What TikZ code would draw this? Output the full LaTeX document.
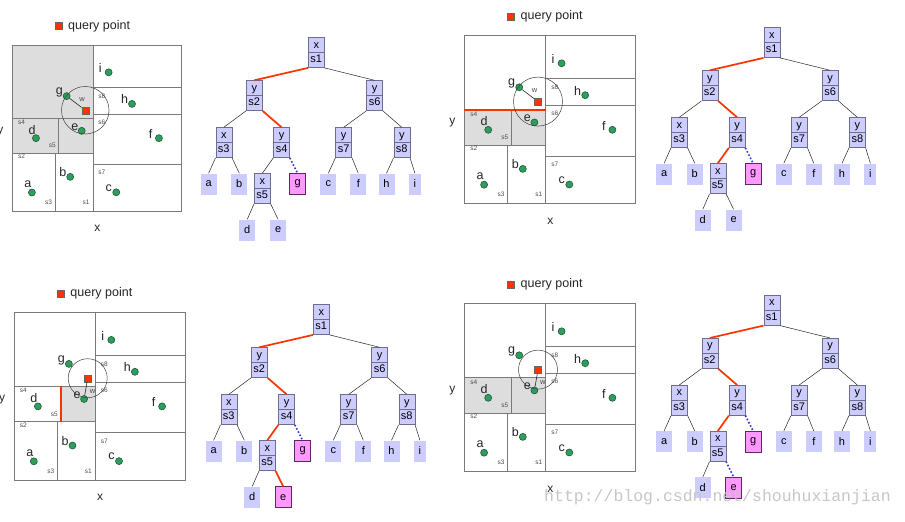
\documentclass[tikz,border=0pt]{standalone}
\usepackage{fontspec}
\setmainfont{Liberation Sans}
\newfontfamily\stampfont{Liberation Mono}
\usepackage{tikz}
\usetikzlibrary{positioning}

\definecolor{lav}{HTML}{CCCCFF}
\definecolor{boxline}{HTML}{6E6E8C}
\definecolor{pinkhit}{HTML}{FF99FF}
\definecolor{hitline}{HTML}{5A2A5A}
\definecolor{hotred}{HTML}{FF3300}
\definecolor{probeblue}{HTML}{3535CC}
\definecolor{sitegreen}{HTML}{2E9E5E}
\definecolor{siteline}{HTML}{1C5A36}
\definecolor{cellgray}{HTML}{DDDDDD}
\definecolor{cutline}{HTML}{7A7A7A}

% plane split into cells, local pixel units, #1 = name prefix
\newcommand{\kdplane}[1]{%
  \draw[cut] (0,0) rectangle (171,168);
  \draw[cut] (81.5,0) -- (81.5,168);      % s1
  \draw[cut] (0,109.3) -- (81.5,109.3);   % s2
  \draw[cut] (43,109.3) -- (43,168);      % s3
  \draw[cut] (0,74) -- (81.5,74);         % s4
  \draw[cut] (46.8,74) -- (46.8,109.3);   % s5
  \draw[cut] (81.5,70) -- (171,70);       % s6
  \draw[cut] (81.5,120.5) -- (171,120.5); % s7
  \draw[cut] (81.5,43) -- (171,43);       % s8
  % split names
  \node[cutlbl] (#1l1) at (74.4,159) {s1};
  \node[cutlbl] (#1l2) at (9.4,112.7) {s2};
  \node[cutlbl] (#1l3) at (36.7,159) {s3};
  \node[cutlbl] (#1l4) at (9.4,78.3) {s4};
  \node[cutlbl] (#1l5) at (40.4,101.7) {s5};
  \node[cutlbl] (#1l6) at (90.4,77.7) {s6};
  \node[cutlbl] (#1l7) at (90.4,129) {s7};
  \node[cutlbl] (#1l8) at (90.4,51.7) {s8};
  % data points
  \node[site] (#1a) at (19.8,149) {};
  \node[site] (#1b) at (58.5,133.2) {};
  \node[site] (#1c) at (105,148.8) {};
  \node[site] (#1d) at (23.9,94.1) {};
  \node[site] (#1e) at (70.1,86.7) {};
  \node[site] (#1f) at (148.1,94.1) {};
  \node[site] (#1g) at (54.9,51.6) {};
  \node[site] (#1h) at (120.9,59.5) {};
  \node[site] (#1i) at (97.3,27.6) {};
  \node[sitelbl] (#1la) at ([shift={(-4,-8.5)}]#1a) {a};
  \node[sitelbl] (#1lb) at ([shift={(-7.5,-4.5)}]#1b) {b};
  \node[sitelbl] (#1lc) at ([shift={(-7.5,-4.5)}]#1c) {c};
  \node[sitelbl] (#1ld) at ([shift={(-4,-8.5)}]#1d) {d};
  \node[sitelbl] (#1le) at ([shift={(-7,-4)}]#1e) {e};
  \node[sitelbl] (#1lf) at ([shift={(-8.5,-4)}]#1f) {f};
  \node[sitelbl] (#1lg) at ([shift={(-7.5,-3.5)}]#1g) {g};
  \node[sitelbl] (#1lh) at ([shift={(-7.5,-4.5)}]#1h) {h};
  \node[sitelbl] (#1li) at ([shift={(-8.5,-4)}]#1i) {i};
  % query point, key and axes
  \node[query] (#1q) at (73.7,65.9) {};
  \node[query] (#1key) at (46.5,-19) {};
  \node[keytxt, right=6pt of #1key] (#1keytxt) {query point};
  \node[axis] (#1x) at (86,185.5) {x};
  \node[axis] (#1y) at (-12,87) {y};
}

% search tree, root top at (0,0), #1 = name prefix
\newcommand{\kdtree}[1]{%
  \node[split] (#1s1) at (0,0) {x\\s1};
  \node[split] (#1s2) at (-62,43) {y\\s2};
  \node[split] (#1s6) at (58.3,43) {y\\s6};
  \node[split] (#1s3) at (-92.5,90) {x\\s3};
  \node[split] (#1s4) at (-34.7,90) {y\\s4};
  \node[split] (#1s7) at (27.4,90) {y\\s7};
  \node[split] (#1s8) at (85.5,90) {y\\s8};
  \node[leaf] (#1a) at (-107.7,136) {a};
  \node[leaf] (#1b) at (-77,136) {b};
  \node[split] (#1s5) at (-54,136) {x\\s5};
  \node[hit] (#1g) at (-18.7,136) {g};
  \node[leaf] (#1c) at (12,136) {c};
  \node[leaf] (#1f) at (42,136) {f};
  \node[leaf] (#1h) at (70.2,136) {h};
  \node[leaf, minimum width=12pt] (#1i) at (98.6,136) {i};
  \node[leaf] (#1d) at (-69,182) {d};
  \node[eleaf] (#1e) at (-38.2,182) {e};
  % edges
  \draw[toS2] (#1s1.south west) -- (#1s2.north);
  \draw[edge] (#1s1.south east) -- (#1s6.north);
  \draw[edge] (#1s2.south west) -- (#1s3.north);
  \draw[toS4] (#1s2.south east) -- (#1s4.north);
  \draw[edge] (#1s6.south west) -- (#1s7.north);
  \draw[edge] (#1s6.south east) -- (#1s8.north);
  \draw[edge] (#1s3.south west) -- (#1a.north);
  \draw[edge] (#1s3.south east) -- (#1b.north);
  \draw[toS5] (#1s4.south west) -- (#1s5.north);
  \draw[probe] (#1s4.south east) -- (#1g.north);
  \draw[edge] (#1s7.south west) -- (#1c.north);
  \draw[edge] (#1s7.south east) -- (#1f.north);
  \draw[edge] (#1s8.south west) -- (#1h.north);
  \draw[edge] (#1s8.south east) -- (#1i.north);
  \draw[edge] (#1s5.south west) -- (#1d.north);
  \draw[toE] (#1s5.south east) -- (#1e.north);
}

\begin{document}
\begin{tikzpicture}[
    x=1pt, y=-1pt,
    cut/.style={draw=cutline, line width=0.7pt},
    cutlbl/.style={inner sep=0pt, text=black!70, font=\fontsize{6.5}{7}\selectfont},
    site/.style={circle, draw=siteline, fill=sitegreen, line width=0.6pt, minimum size=7pt, inner sep=0pt},
    sitelbl/.style={inner sep=0pt, text=black!85, font=\fontsize{12.5}{13}\selectfont},
    query/.style={draw=black!60, fill=hotred, line width=0.4pt, minimum size=7pt, inner sep=0pt},
    keytxt/.style={inner sep=0pt, text=black!85, font=\fontsize{12.5}{13}\selectfont},
    axis/.style={inner sep=0pt, text=black!85, font=\fontsize{12}{13}\selectfont},
    ring/.style={draw=black!75, line width=0.5pt},
    reach/.style={draw=black!85, line width=0.6pt},
    hotcut/.style={draw=hotred, line width=1.8pt},
    split/.style={anchor=north, draw=boxline, fill=lav, line width=0.6pt, minimum width=16pt, minimum height=30pt,
        inner sep=0pt, align=center, font=\fontsize{11}{14.5}\selectfont,
        path picture={\draw[boxline, line width=0.6pt] (path picture bounding box.west) -- (path picture bounding box.east);}},
    leaf/.style={anchor=north, fill=lav, minimum width=16pt, minimum height=21pt, inner sep=0pt, font=\fontsize{11}{12}\selectfont},
    hit/.style={leaf, fill=pinkhit, draw=hitline, line width=0.6pt},
    edge/.style={draw=black!85, line width=0.5pt},
    hot/.style={draw=hotred, line width=1.7pt},
    probe/.style={draw=probeblue, dotted, line width=1.6pt},
    stamp/.style={inner sep=0pt, anchor=west, text=black!22, font=\stampfont\fontsize{16.5}{18}\selectfont},
    % path to the nearest point, changed per tree
    toS2/.style={edge}, toS4/.style={edge}, toS5/.style={edge}, toE/.style={edge}, eleaf/.style={leaf}
]
\useasboundingbox (0,0) rectangle (905,522);
\fill[white] (0,0) rectangle (905,522);

% ===== TOP LEFT: first guess g =====
\begin{scope}[shift={(12.3,45)}, scale=0.99]
  \fill[cellgray] (0,0) rectangle (81.5,109.3);
  \kdplane{P1}
  \draw[ring] (P1q) circle[radius=24];
  \draw[reach] (P1q) -- (P1g);
  \node[cutlbl, font=\fontsize{7.5}{8}\selectfont] (P1w) at ([shift={(-3.3,-11)}]P1q) {w};
\end{scope}
\begin{scope}[shift={(316.3,37.3)}, toS2/.style=hot, toS4/.style=hot]
  \kdtree{T1}
\end{scope}

% ===== TOP RIGHT: check s4 =====
\begin{scope}[shift={(464.3,35.7)}]
  \fill[cellgray] (0,74) rectangle (81.5,109.3);
  \kdplane{P2}
  \draw[hotcut] (0,74) -- (81.5,74);
  \draw[ring] (P2q) circle[radius=24.5];
  \draw[reach] (P2q) -- (P2g);
  \node[cutlbl, font=\fontsize{7.5}{8}\selectfont] (P2w) at ([shift={(-3.3,-11)}]P2q) {w};
\end{scope}
\begin{scope}[shift={(771.8,27.3)}, toS2/.style=hot, toS4/.style=hot, toS5/.style=hot]
  \kdtree{T2}
\end{scope}

% ===== BOTTOM LEFT: e is closer =====
\begin{scope}[shift={(14,312.3)}]
  \fill[cellgray] (46.8,74) rectangle (81.5,109.3);
  \kdplane{P3}
  \draw[hotcut] (46.8,74) -- (46.8,109.3);
  \draw[ring] (P3q) circle[radius=19.5];
  \draw[reach] (P3q) -- (P3e);
  \node[cutlbl, font=\fontsize{7.5}{8}\selectfont] (P3w) at ([shift={(4.8,13.1)}]P3q) {w};
\end{scope}
\begin{scope}[shift={(321.3,304.3)}, toS2/.style=hot, toS4/.style=hot, toS5/.style=hot, toE/.style=hot, eleaf/.style=hit]
  \kdtree{T3}
\end{scope}

% ===== BOTTOM RIGHT: back up to s4 =====
\begin{scope}[shift={(464.3,303.7)}]
  \fill[cellgray] (0,74) rectangle (81.5,109.3);
  \kdplane{P4}
  \draw[ring] (P4q) circle[radius=19.5];
  \draw[reach] (P4q) -- (P4e);
  \node[cutlbl, font=\fontsize{7.5}{8}\selectfont] (P4w) at ([shift={(4.8,13.1)}]P4q) {w};
\end{scope}
\begin{scope}[shift={(771.8,295)}, toS2/.style=hot, toS4/.style=hot, toS5/.style=hot, toE/.style=probe, eleaf/.style=hit]
  \kdtree{T4}
\end{scope}

% watermark
\node[stamp] (src) at (544,497) {http://blog.csdn.net/shouhuxianjian};
\end{tikzpicture}
\end{document}
